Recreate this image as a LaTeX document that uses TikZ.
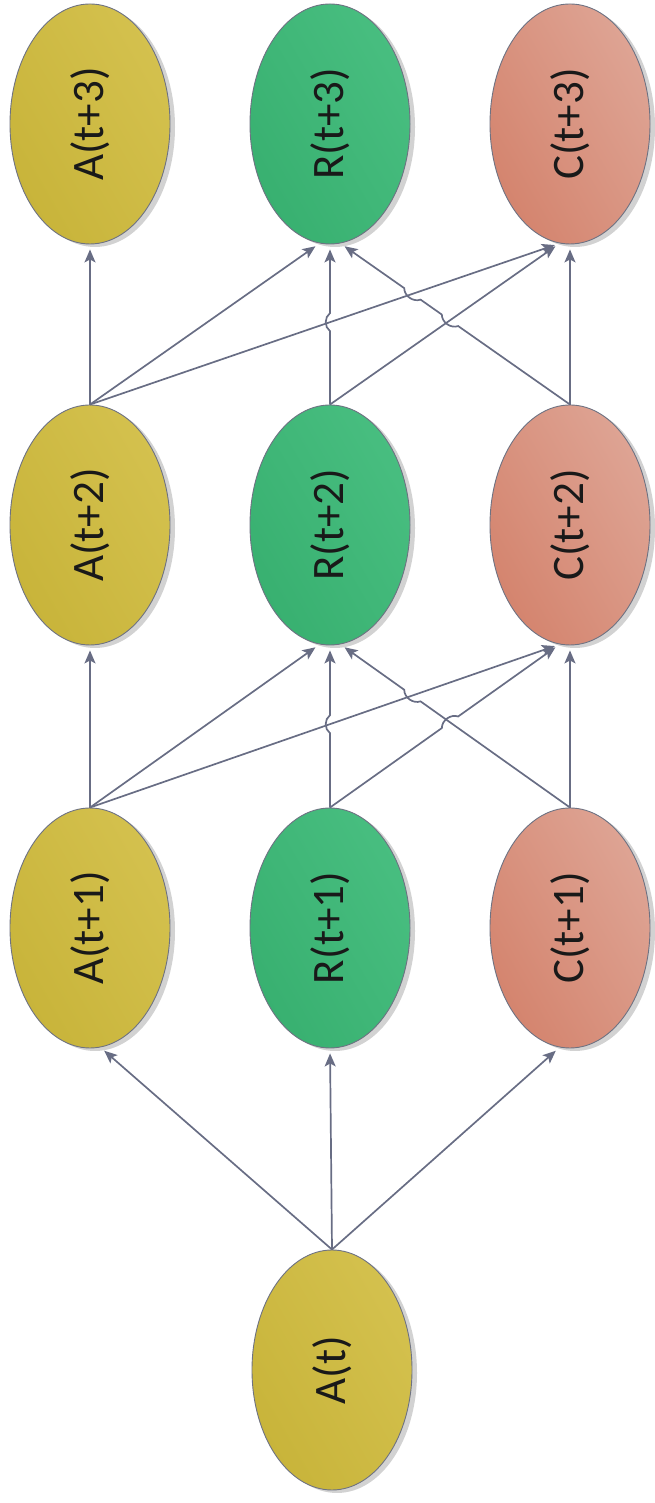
\documentclass[tikz,border=0pt]{standalone}
\usepackage{fontspec}
\setmainfont{Carlito}
\usepackage{graphicx}
\usetikzlibrary{shapes.geometric,arrows.meta,calc,shadows}
\definecolor{ayel1}{RGB}{200,180,58}
\definecolor{ayel2}{RGB}{212,193,78}
\definecolor{rgrn1}{RGB}{56,176,112}
\definecolor{rgrn2}{RGB}{72,190,128}
\definecolor{csal1}{RGB}{212,132,110}
\definecolor{csal2}{RGB}{222,164,148}
\definecolor{ellborder}{RGB}{110,114,130}
\definecolor{edgecol}{RGB}{104,109,132}
\begin{document}
\begin{tikzpicture}[x=1pt,y=1pt,
  state/.style={ellipse, draw=ellborder, line width=0.9pt,
    minimum width=160pt, minimum height=240pt, inner sep=0pt,
    drop shadow={shadow xshift=5pt, shadow yshift=-3pt, fill=black!35, opacity=0.5},
    font=\fontsize{45}{50}\selectfont, text=black!90},
  astate/.style={state, top color=ayel2, bottom color=ayel1, shading angle=-60},
  rstate/.style={state, top color=rgrn2, bottom color=rgrn1, shading angle=-60},
  cstate/.style={state, top color=csal2, bottom color=csal1, shading angle=-60},
  edge/.style={draw=edgecol, line width=1.7pt,
    -{Stealth[length=13pt,width=11pt,inset=3pt]}, shorten >=5pt},
  hop/.style={bend left=55}
]
\useasboundingbox (0,0) rectangle (655,1503);

% nodes
\node[astate] (A3) at (90,1379) {\rotatebox{90}{A(t+3)}};
\node[rstate] (R3) at (330,1379) {\rotatebox{90}{R(t+3)}};
\node[cstate] (C3) at (570,1379) {\rotatebox{90}{C(t+3)}};
\node[astate] (A2) at (90,978) {\rotatebox{90}{A(t+2)}};
\node[rstate] (R2) at (330,978) {\rotatebox{90}{R(t+2)}};
\node[cstate] (C2) at (570,978) {\rotatebox{90}{C(t+2)}};
\node[astate] (A1) at (90,575) {\rotatebox{90}{A(t+1)}};
\node[rstate] (R1) at (330,575) {\rotatebox{90}{R(t+1)}};
\node[cstate] (C1) at (570,575) {\rotatebox{90}{C(t+1)}};
\node[astate] (A0) at (332,133) {\rotatebox{90}{A(t)}};

% bottom fan
\draw[edge] (A0.north) -- (A1.275);
\draw[edge] (A0.north) -- (R1.south);
\draw[edge] (A0.north) -- (C1.265);

% middle gap
\coordinate (X3) at (intersection of A1.north--C2.265 and R1.north--R2.south);
\coordinate (X4) at (intersection of C1.north--R2.275 and A1.north--C2.265);
\coordinate (X5) at (intersection of C1.north--R2.275 and R1.north--C2.265);
\draw[edge] (A1.north) -- (A2.south);
\draw[edge] (A1.north) -- (R2.265);
\draw[edge] (A1.north) -- (C2.265);
\draw[edge] (R1.north) -- ($(X3)!9pt!(R1.north)$) to[hop] ($(X3)!9pt!(R2.south)$) -- (R2.south);
\draw[edge] (R1.north) -- ($(X5)!10pt!(R1.north)$) to[hop] ($(X5)!10pt!(C2.265)$) -- (C2.265);
\draw[edge] (C1.north) -- ($(X4)!10pt!(C1.north)$) to[hop] ($(X4)!10pt!(R2.275)$) -- (R2.275);
\draw[edge] (C1.north) -- (C2.south);

% top gap
\coordinate (X1) at (intersection of A2.north--C3.265 and R2.north--R3.south);
\coordinate (X2) at (intersection of C2.north--R3.275 and A2.north--C3.265);
\coordinate (X6) at (intersection of C2.north--R3.275 and R2.north--C3.265);
\draw[edge] (A2.north) -- (A3.south);
\draw[edge] (A2.north) -- (R3.265);
\draw[edge] (A2.north) -- (C3.265);
\draw[edge] (R2.north) -- ($(X1)!9pt!(R2.north)$) to[hop] ($(X1)!9pt!(R3.south)$) -- (R3.south);
\draw[edge] (R2.north) -- (C3.265);
\draw[edge] (C2.north) -- ($(X6)!10pt!(C2.north)$) to[hop] ($(X6)!10pt!(R3.275)$) -- ($(X2)!10pt!(C2.north)$) to[hop] ($(X2)!10pt!(R3.275)$) -- (R3.275);
\draw[edge] (C2.north) -- (C3.south);
\end{tikzpicture}
\end{document}
